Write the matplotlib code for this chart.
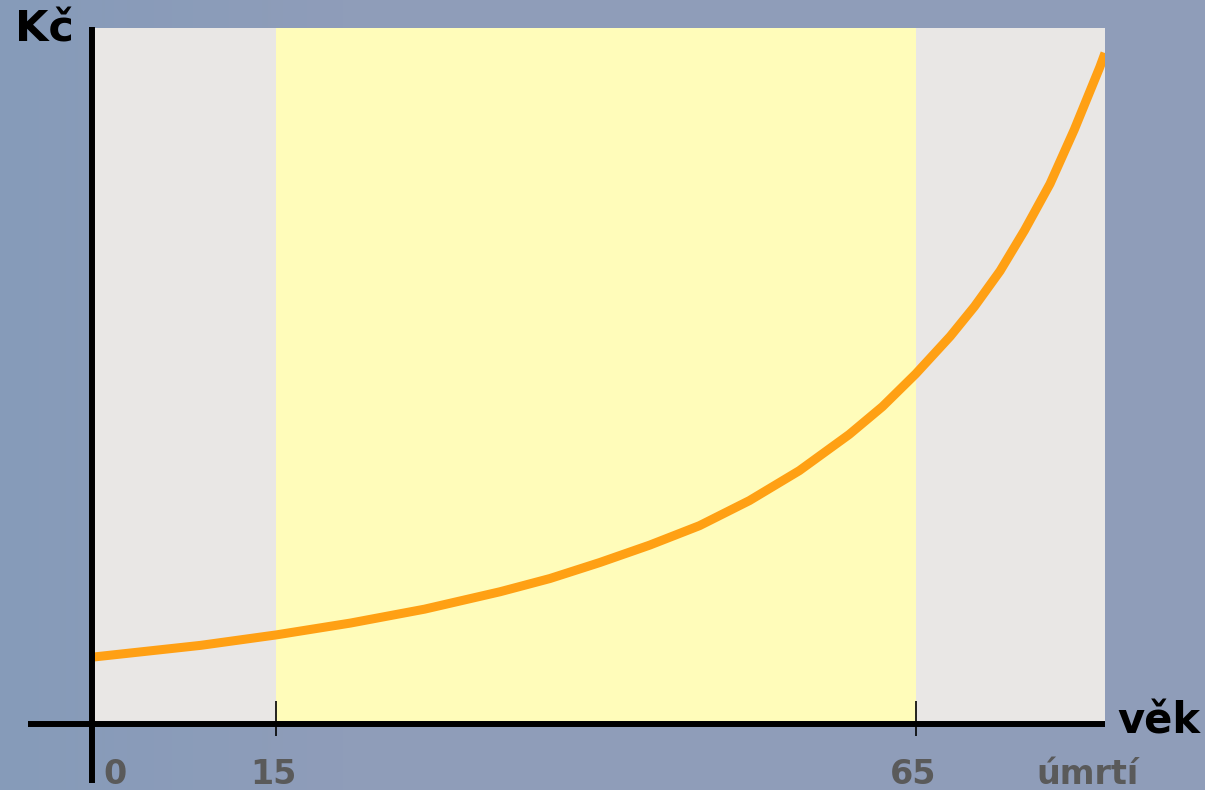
import numpy as np
import matplotlib
matplotlib.use("Agg")
import matplotlib.pyplot as plt

# age (years) and amount (Kč, relative units)
AGES = [0.6, 9.1, 15.0, 20.8, 26.6, 32.5, 36.4, 40.3, 44.2, 48.1, 52.0,
        55.9, 59.8, 62.4, 65.0, 67.7, 69.6, 71.6, 73.5, 75.5, 77.4, 79.4, 79.8]
AMOUNT = [9.6, 11.3, 12.8, 14.5, 16.5, 19.0, 20.9, 23.2, 25.7, 28.5, 32.1,
          36.4, 41.6, 45.6, 50.3, 55.7, 60.0, 65.1, 70.9, 77.6, 85.4, 94.4, 96.4]

X_MIN, X_MAX = 0.6, 79.8
Y_MAX = 100
WORK_START = 15
WORK_END = 65

TICK_POS = [X_MIN, 15, 65, X_MAX]
TICK_LABELS = ["0", "15", "65", "úmrtí"]

BG = "#8e9db9"
PANEL = "#e9e7e5"
BAND = "#fffcba"
CURVE = "#ffa014"
LABEL_GREY = "#5a5a5a"

W, H = 1205, 790
fig = plt.figure(figsize=(W / 100, H / 100), dpi=100)
fig.patch.set_facecolor(BG)

# slightly bluer wash on the left of the background
bg_ax = fig.add_axes([0, 0, 1, 1], zorder=-10)
grad = np.clip(np.linspace(0, 1, 400) * 3.5, 0, 1)
c0 = np.array([134, 155, 185]) / 255
c1 = np.array([143, 157, 185]) / 255
img = c0[None, None, :] * (1 - grad[None, :, None]) + c1[None, None, :] * grad[None, :, None]
bg_ax.imshow(img, aspect="auto", extent=[0, 1, 0, 1])
bg_ax.axis("off")

left, right, top, bottom = 92, 1105, 28, 724
ax = fig.add_axes([left / W, (H - bottom) / H, (right - left) / W, (bottom - top) / H])
ax.set_facecolor(PANEL)
ax.set_xlim(X_MIN, X_MAX)
ax.set_ylim(0, Y_MAX)
for s in ax.spines.values():
    s.set_visible(False)
ax.set_xticks([])
ax.set_yticks([])

# productive-age band
ax.axvspan(WORK_START, WORK_END, color=BAND, lw=0, zorder=1)

ax.plot(AGES, AMOUNT, color=CURVE, lw=6.5, solid_joinstyle="round",
        solid_capstyle="butt", zorder=3)

# axis lines, reaching past the panel (px/py = one pixel in data units)
px = (X_MAX - X_MIN) / (right - left)
py = Y_MAX / (bottom - top)
ax.plot([X_MIN - 0.5 * px] * 2, [Y_MAX + 1 * py, -(783 - bottom) * py],
        color="black", lw=4.3, clip_on=False, zorder=5, solid_capstyle="butt")
ax.plot([X_MIN - (left - 28) * px, X_MAX], [0, 0],
        color="black", lw=4.3, clip_on=False, zorder=5, solid_capstyle="butt")

# small tick marks at the band edges
xt = ax.get_xaxis_transform()
ax.vlines([WORK_START, WORK_END], -12 / (bottom - top), 23 / (bottom - top),
          transform=xt, color="black", lw=1.2, clip_on=False, zorder=6)

font = "DejaVu Sans"
label_y = -50 / (bottom - top)
for pos, lab in zip(TICK_POS, TICK_LABELS):
    if lab == "0":
        x, ha = pos + 11 * px, "left"
    elif lab == "úmrtí":
        x, ha = pos - 17 * px, "center"
    else:
        x, ha = pos - 3 * px, "center"
    ax.text(x, label_y, lab, transform=xt, ha=ha, va="center",
            fontsize=24, fontweight="bold", color=LABEL_GREY, family=font,
            clip_on=False)

fig.text(15 / W, 1 - 30 / H, "Kč", ha="left", va="center", fontsize=31,
         fontweight="heavy", color="black", family=font)
fig.text(1117 / W, 1 - 722 / H, "věk", ha="left", va="center", fontsize=30,
         fontweight="heavy", color="black", family=font)

fig.savefig("out.png", dpi=100, facecolor=BG)
